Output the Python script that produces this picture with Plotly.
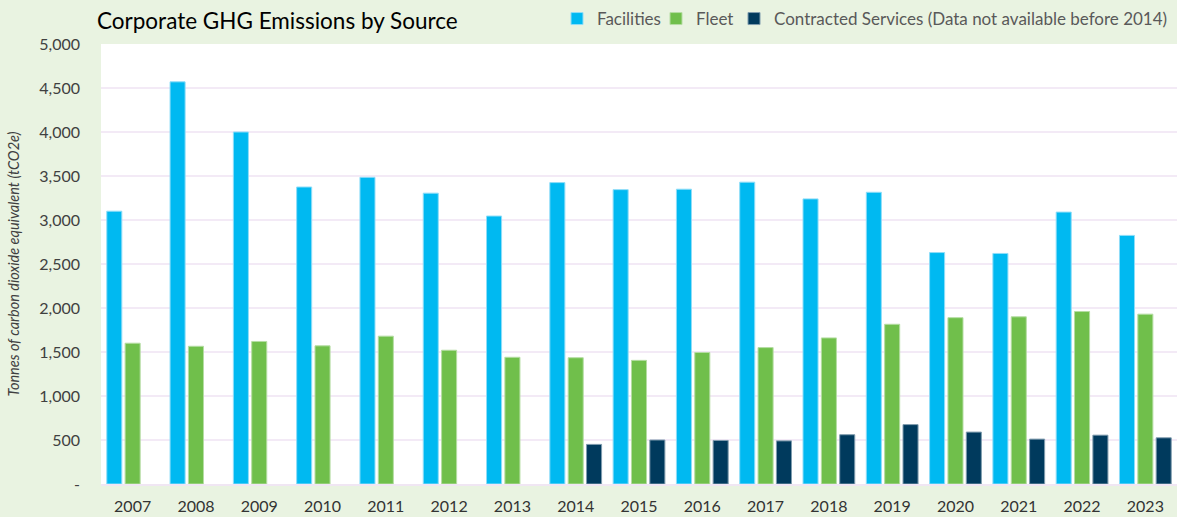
import plotly.graph_objects as go

years = ["2007", "2008", "2009", "2010", "2011", "2012", "2013", "2014", "2015",
         "2016", "2017", "2018", "2019", "2020", "2021", "2022", "2023"]
facilities = [3100, 4570, 4000, 3375, 3485, 3305, 3045, 3425, 3345,
              3350, 3430, 3240, 3315, 2630, 2620, 3090, 2825]
fleet = [1600, 1565, 1620, 1570, 1680, 1520, 1440, 1435, 1405,
         1495, 1550, 1660, 1815, 1890, 1900, 1960, 1930]
contracted = [None, None, None, None, None, None, None, 450, 500,
              495, 490, 560, 675, 590, 510, 555, 525]
y_tickvals = [0, 500, 1000, 1500, 2000, 2500, 3000, 3500, 4000, 4500, 5000]
y_ticktext = ["-", "500", "1,000", "1,500", "2,000", "2,500", "3,000", "3,500", "4,000", "4,500", "5,000"]

W, H = 1177, 517
ML, MR, MT, MB = 101, 0, 44, 33
PW = W - ML - MR
PH = H - MT - MB

fig = go.Figure()
series = [
    ("Facilities", facilities, "#00B9F1", "#8FDDF8", "legend", 557),
    ("Fleet", fleet, "#70BF4B", "#B5DDA3", "legend2", 656),
    ("Contracted Services (Data not available before 2014)", contracted, "#003A5D", "#7F9CAE", "legend3", 734),
]
legend_style = dict(orientation="h", xanchor="left", yanchor="middle",
                    y=1 + 25 / PH, font=dict(family="Lato", size=17, color="#595959"),
                    bgcolor="rgba(0,0,0,0)", itemwidth=30)
legends = {}
for name, vals, col, lc, leg, lx in series:
    fig.add_trace(go.Bar(
        x=years, y=vals, name=name, legend=leg,
        marker=dict(color=col, line=dict(color=lc, width=1)),
    ))
    legends[leg] = dict(legend_style, x=(lx - ML) / PW)

fig.update_layout(
    width=W, height=H,
    paper_bgcolor="#E9F3E1",
    plot_bgcolor="#FFFFFF",
    font=dict(family="Lato", color="#404040", size=16),
    margin=dict(l=ML, r=MR, t=MT, b=MB),
    barmode="group",
    bargap=0.13,
    bargroupgap=0.18,
    title=dict(text="Corporate GHG Emissions by Source", x=97 / W, xanchor="left",
               y=1 - 21 / H, yanchor="middle",
               font=dict(family="Lato", size=22.5, color="#000000")),
    showlegend=True,
    **legends,
)
fig.update_yaxes(
    range=[0, 5000], tickvals=y_tickvals, ticktext=y_ticktext,
    showgrid=True, gridcolor="#F3EAF6", gridwidth=2, zeroline=False,
    ticks="", ticklabelstandoff=20,
    tickfont=dict(family="Lato", size=16, color="#404040"),
    title=dict(text="<i>Tonnes of carbon dioxide equivalent (tCO2e)</i>",
               font=dict(family="Lato", size=14.5, color="#404040"), standoff=16),
)
fig.update_xaxes(
    showline=True, linecolor="#F0E6F3", linewidth=2,
    ticks="", ticklabelstandoff=7,
    tickfont=dict(family="Lato", size=16, color="#333333"),
)

fig.write_html("out.html", config={"displayModeBar": False},
               post_script="document.body.style.margin='0';document.body.style.overflow='hidden';")
